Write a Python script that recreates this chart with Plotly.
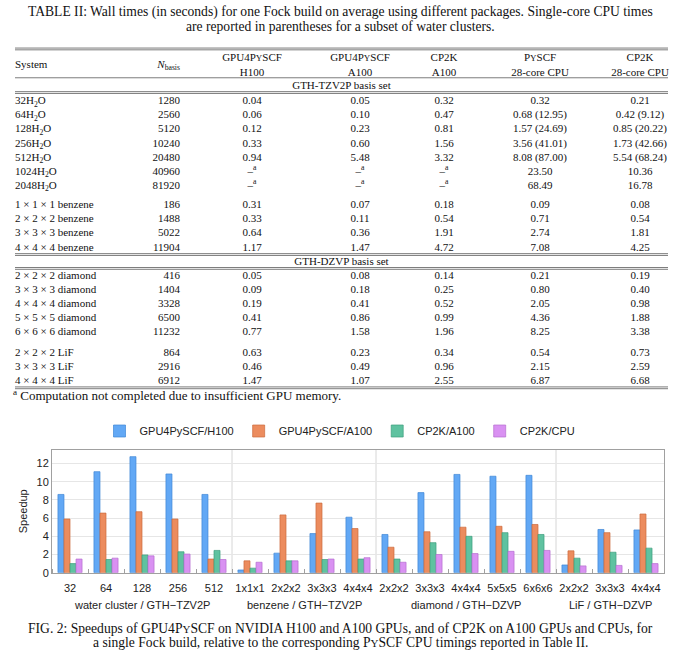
import plotly.graph_objects as go

# ---------------- table data (Table II) ----------------
SYSTEMS = [
    "32H<sub>2</sub>O", "64H<sub>2</sub>O", "128H<sub>2</sub>O", "256H<sub>2</sub>O",
    "512H<sub>2</sub>O", "1024H<sub>2</sub>O", "2048H<sub>2</sub>O",
    "1 × 1 × 1 benzene", "2 × 2 × 2 benzene", "3 × 3 × 3 benzene", "4 × 4 × 4 benzene",
    "2 × 2 × 2 diamond", "3 × 3 × 3 diamond", "4 × 4 × 4 diamond",
    "5 × 5 × 5 diamond", "6 × 6 × 6 diamond",
    "2 × 2 × 2 LiF", "3 × 3 × 3 LiF", "4 × 4 × 4 LiF",
]
N_BASIS = ["1280", "2560", "5120", "10240", "20480", "40960", "81920",
           "186", "1488", "5022", "11904",
           "416", "1404", "3328", "6500", "11232",
           "864", "2916", "6912"]
MISSING = "–<sup>a</sup>"
GPU4_H100 = ["0.04", "0.06", "0.12", "0.33", "0.94", MISSING, MISSING,
             "0.31", "0.33", "0.64", "1.17",
             "0.05", "0.09", "0.19", "0.41", "0.77",
             "0.63", "0.46", "1.47"]
GPU4_A100 = ["0.05", "0.10", "0.23", "0.60", "5.48", MISSING, MISSING,
             "0.07", "0.11", "0.36", "1.47",
             "0.08", "0.18", "0.41", "0.86", "1.58",
             "0.23", "0.49", "1.07"]
CP2K_A100 = ["0.32", "0.47", "0.81", "1.56", "3.32", MISSING, MISSING,
             "0.18", "0.54", "1.91", "4.72",
             "0.14", "0.25", "0.52", "0.99", "1.96",
             "0.34", "0.96", "2.55"]
PYSCF_CPU = ["0.32", "0.68 (12.95)", "1.57 (24.69)", "3.56 (41.01)", "8.08 (87.00)",
             "23.50", "68.49",
             "0.09", "0.71", "2.74", "7.08",
             "0.21", "0.80", "2.05", "4.36", "8.25",
             "0.54", "2.15", "6.87"]
CP2K_CPU = ["0.21", "0.42 (9.12)", "0.85 (20.22)", "1.73 (42.66)", "5.54 (68.24)",
            "10.36", "16.78",
            "0.08", "0.54", "1.81", "4.25",
            "0.19", "0.40", "0.98", "1.88", "3.38",
            "0.73", "2.59", "6.68"]
GROUP_SIZES = [7, 4, 5, 3]


def small_caps(px):
    return "P<span style='font-size:%dpx'>Y</span>SCF" % px


HEAD_TOP = ["GPU4" + small_caps(9), "GPU4" + small_caps(9), "CP2K", small_caps(9), "CP2K"]
HEAD_BOT = ["H100", "A100", "A100", "28-core CPU", "28-core CPU"]

# ---------------- chart data (Fig. 2) ----------------
BAR_LABELS = ["32", "64", "128", "256", "512",
              "1x1x1", "2x2x2", "3x3x3", "4x4x4",
              "2x2x2", "3x3x3", "4x4x4", "5x5x5", "6x6x6",
              "2x2x2", "3x3x3", "4x4x4"]
GROUP_NAMES = ["water cluster / GTH−TZV2P", "benzene / GTH−TZV2P",
               "diamond / GTH−DZVP", "LiF / GTH−DZVP"]
GROUP_COUNTS = [5, 4, 5, 3]
SPEED_H100 = [8.6, 11.1, 12.75, 10.85, 8.6, 0.3, 2.15, 4.3, 6.1,
              4.2, 8.8, 10.8, 10.6, 10.7, 0.85, 4.75, 4.7]
SPEED_A100 = [5.9, 6.55, 6.7, 5.9, 1.5, 1.3, 6.35, 7.65, 4.85,
              2.8, 4.5, 5.0, 5.1, 5.3, 2.4, 4.4, 6.45]
SPEED_CP2K_A100 = [1.0, 1.45, 1.95, 2.3, 2.45, 0.5, 1.3, 1.45, 1.5,
                   1.5, 3.3, 4.0, 4.4, 4.2, 1.6, 2.25, 2.7]
SPEED_CP2K_CPU = [1.5, 1.6, 1.85, 2.05, 1.45, 1.15, 1.3, 1.5, 1.65,
                  1.15, 2.0, 2.1, 2.35, 2.45, 0.75, 0.8, 1.0]
SERIES = [
    ("GPU4PySCF/H100", SPEED_H100, "#62a8f5", "#3f86d6"),
    ("GPU4PySCF/A100", SPEED_A100, "#ec8c5e", "#cc6a3c"),
    ("CP2K/A100", SPEED_CP2K_A100, "#5fc2a0", "#3e9d7d"),
    ("CP2K/CPU", SPEED_CP2K_CPU, "#d991f2", "#b56ed0"),
]

W, H = 680, 655
SERIF = "Liberation Serif"
SANS = "Liberation Sans"

fig = go.Figure()

# ---------------- bars ----------------
xs = list(range(len(BAR_LABELS)))
for name, vals, fill, edge in SERIES:
    fig.add_trace(go.Bar(
        x=xs, y=vals, name=name, marker=dict(color=fill, line=dict(color=edge, width=0.7)),
        xaxis="x", yaxis="y",
    ))

# group separators and group labels
pos = 0
for i, (gname, cnt) in enumerate(zip(GROUP_NAMES, GROUP_COUNTS)):
    if i > 0:
        fig.add_shape(type="line", xref="x", yref="y domain", x0=pos - 0.5, x1=pos - 0.5,
                      y0=0, y1=1, line=dict(color="#d6d6d6", width=1), layer="below")
    fig.add_annotation(x=pos + (cnt - 1) / 2, y=-0.2, xref="x", yref="y domain",
                       text=gname, showarrow=False, yanchor="top",
                       font=dict(family=SANS, size=11, color="#222"))
    pos += cnt

# ---------------- table ----------------
TBL_L, TBL_R = 15, 668
COL_SYS, COL_NB = 17, 178
COL_C = [252, 360, 444, 540, 640]
PITCH = 14.2
GROUP_TOP = [101, 206, 277, 355]
DY = 1.5  # plotly centres text a little high

row_y = []
for top, n in zip(GROUP_TOP, GROUP_SIZES):
    row_y += [top + DY + PITCH * k for k in range(n)]

tfont = dict(family=SERIF, size=11, color="#111")


def text_col(x, y, text, pos_, font=tfont):
    fig.add_trace(go.Scatter(
        x=[x] * len(y) if not isinstance(x, list) else x, y=y, text=text, mode="text",
        textposition=pos_, textfont=font, xaxis="x2", yaxis="y2",
        showlegend=False, hoverinfo="skip",
    ))


text_col(COL_SYS - 2, row_y, SYSTEMS, "middle right")
text_col(COL_NB + 2, row_y, N_BASIS, "middle left")
for cx, col in zip(COL_C, [GPU4_H100, GPU4_A100, CP2K_A100, PYSCF_CPU, CP2K_CPU]):
    text_col(cx, row_y, col, "middle center")

# header
text_col([COL_SYS - 2], [64 + DY], ["System"], "middle right")
text_col([COL_NB + 2], [64 + DY], ["<i>N</i><sub>basis</sub>"], "middle left")
text_col(COL_C, [57.5 + DY] * 5, HEAD_TOP, "middle center")
text_col(COL_C, [72 + DY] * 5, HEAD_BOT, "middle center")
text_col([(TBL_L + TBL_R) / 2] * 2, [86 + DY, 263 + DY],
         ["GTH-TZV2P basis set", "GTH-DZVP basis set"], "middle center")
text_col([TBL_L - 2], [399 + DY], ["<sup>a</sup> Computation not completed due to insufficient GPU memory."],
         "middle right", dict(family=SERIF, size=13, color="#111"))

# horizontal rules
RULES = [(48.5, 2), (78.5, 1), (92.5, 2), (256, 2), (270, 2), (390.5, 2)]
for yy, n in RULES:
    for k in range(n):
        fig.add_shape(type="line", xref="x2", yref="y2", x0=TBL_L, x1=TBL_R,
                      y0=yy + 1.8 * k, y1=yy + 1.8 * k, line=dict(color="#444", width=0.7))

# captions
CAP_FONT = dict(family=SERIF, size=13.6, color="#111")
CAPTIONS = [
    (12, "TABLE II: Wall times (in seconds) for one Fock build on average using different "
         "packages. Single-core CPU times"),
    (27, "are reported in parentheses for a subset of water clusters."),
    (634, "FIG. 2: Speedups of GPU4" + small_caps(11) +
          " on NVIDIA H100 and A100 GPUs, and of CP2K on A100 GPUs and CPUs, for"),
    (648, "a single Fock build, relative to the corresponding " + small_caps(11) +
          " CPU timings reported in Table II."),
]
for yy, txt in CAPTIONS:
    fig.add_annotation(x=0.5, y=1 - yy / H, xref="paper", yref="paper", showarrow=False,
                       yanchor="middle", text=txt, font=CAP_FONT)

fig.update_layout(
    width=W, height=H, margin=dict(l=0, r=0, t=0, b=0),
    paper_bgcolor="white", plot_bgcolor="rgba(0,0,0,0)",
    barmode="group", bargap=0.33, bargroupgap=0.0,
    font=dict(family=SANS, size=11, color="#222"),
    legend=dict(orientation="h", x=0.5, y=1 - 435 / H, xanchor="center", yanchor="middle",
                font=dict(family=SANS, size=11, color="#222"), itemwidth=30,
                tracegroupgap=0),
    xaxis=dict(domain=[52 / W, 664 / W], range=[-0.5, len(BAR_LABELS) - 0.5],
               tickvals=xs, ticktext=BAR_LABELS, ticks="", showgrid=False,
               showline=True, linecolor="#a0a0a0", mirror=True, zeroline=False,
               minor=dict(tickvals=[i - 0.5 for i in range(len(BAR_LABELS) + 1)],
                          ticks="inside", ticklen=4, tickcolor="#a0a0a0"),
               ticklabelstandoff=5, tickfont=dict(size=11), anchor="y"),
    yaxis=dict(domain=[1 - 578 / H, 1 - 454 / H], range=[0, 13.5], dtick=2,
               showgrid=True, gridcolor="#e6e6e6", zeroline=False,
               showline=True, linecolor="#a0a0a0", mirror=True, ticks="",
               title=dict(text="Speedup", font=dict(size=11), standoff=6),
               tickfont=dict(size=11), anchor="x"),
    xaxis2=dict(domain=[0, 1], range=[0, W], visible=False, anchor="y2", fixedrange=True),
    yaxis2=dict(domain=[0, 1], range=[H, 0], visible=False, anchor="x2", fixedrange=True),
)

# page margin off so the 680x655 figure fills the window exactly
fig.write_html("out.html", config={"displayModeBar": False},
               post_script="document.body.style.margin='0px';")
